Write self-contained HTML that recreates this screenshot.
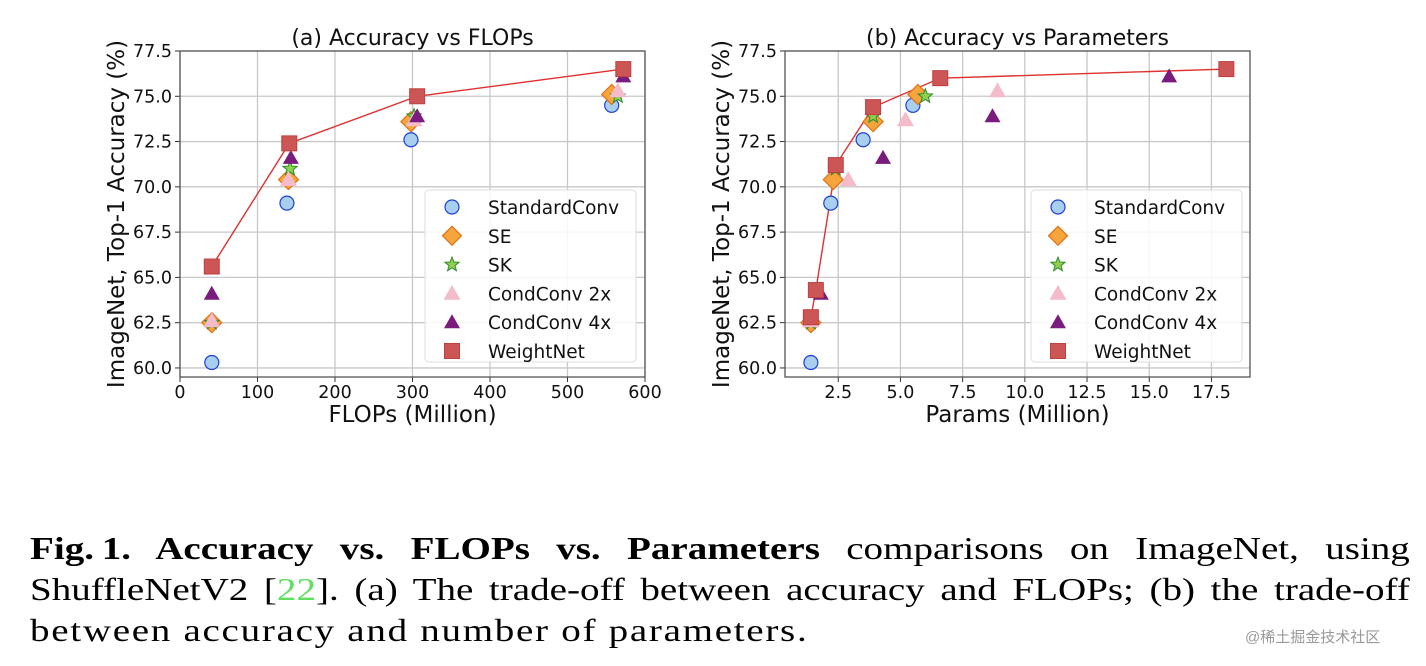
<!DOCTYPE html>
<html><head><meta charset="utf-8">
<style>
body{margin:0;background:#fff;width:1426px;height:666px;overflow:hidden;position:relative}
svg{position:absolute;left:0;top:0}
#cap{position:absolute;left:30px;top:528px;width:1380px;font-family:"Liberation Serif",serif;font-size:32px;line-height:41px;color:#000}
#cap div{width:1131px;transform:scaleX(1.22);transform-origin:0 0;white-space:nowrap}
#cap .j{text-align:justify;text-align-last:justify}
#cap .l{letter-spacing:1.4px}
#wm{position:absolute;left:1245px;top:626px;font-family:"Liberation Sans","Noto Sans CJK SC",sans-serif;font-size:15px;color:#999}
</style></head>
<body>
<svg id="fig" width="1426" height="520" xmlns="http://www.w3.org/2000/svg" font-family="DejaVu Sans, sans-serif"></svg>
<div id="cap"><div class="j"><b>Fig.&#8201;1. Accuracy vs. FLOPs vs. Parameters</b> comparisons on ImageNet, using</div><div class="j">ShuffleNetV2 [<span style="color:#5ee05e">22</span>]. (a) The trade-off between accuracy and FLOPs; (b) the trade-off</div><div class="l">between accuracy and number of parameters.</div></div>
<div id="wm">@稀土掘金技术社区</div>
<script>
const seriesNames=["StandardConv","SE","SK","CondConv 2x","CondConv 4x","WeightNet"];
const flopsStd=[41,138,298,557], accStdA=[60.3,69.1,72.6,74.5];
const flopsSE=[41,140,298,557], accSEA=[62.5,70.4,73.6,75.1];
const flopsSK=[41,142,302,565], accSKA=[62.5,71.0,73.9,75.0];
const flopsC2=[41,140,302,565], accC2A=[62.6,70.4,73.7,75.3];
const flopsC4=[41,143,306,572], accC4A=[64.1,71.6,73.9,76.1];
const flopsWN=[41,141,306,572], accWNA=[65.6,72.4,75.0,76.5];
const paramsStd=[1.4,2.2,3.5,5.5], accStdB=[60.3,69.1,72.6,74.5];
const paramsSE=[1.4,2.3,3.9,5.7], accSEB=[62.5,70.4,73.6,75.1];
const paramsSK=[1.4,2.4,3.9,6.0], accSKB=[62.5,71.0,73.9,75.0];
const paramsC2=[1.4,2.9,5.2,8.9], accC2B=[62.6,70.4,73.7,75.3];
const paramsC4=[1.8,4.3,8.7,15.8], accC4B=[64.1,71.6,73.9,76.1];
const paramsWN=[1.4,1.6,2.4,3.9,6.6,18.1], accWNB=[62.8,64.3,71.2,74.4,76.0,76.5];
const yTicks=[60.0,62.5,65.0,67.5,70.0,72.5,75.0,77.5];
const xTicksA=[0,100,200,300,400,500,600];
const xTicksB=[2.5,5.0,7.5,10.0,12.5,15.0,17.5];

const NS="http://www.w3.org/2000/svg";
const svg=document.getElementById('fig');
function el(tag,attrs,parent,text){const e=document.createElementNS(NS,tag);for(const k in attrs)e.setAttribute(k,attrs[k]);if(text!==undefined)e.textContent=text;(parent||svg).appendChild(e);return e;}

function marker(g,kind,cx,cy,s){
  let e;
  if(kind==0){e=el('circle',{cx:cx,cy:cy,r:7*s,fill:'#a9cfee',stroke:'#1f3fd8','stroke-width':1.2},g);}
  else if(kind==1){const r=10*s;e=el('polygon',{points:`${cx},${cy-r} ${cx+r},${cy} ${cx},${cy+r} ${cx-r},${cy}`,fill:'#f6a53c',stroke:'#e0721a','stroke-width':1.2},g);}
  else if(kind==2){let p=[];for(let i=0;i<10;i++){const a=-Math.PI/2+i*Math.PI/5;const r=i%2?3.2*s:7.5*s;p.push((cx+r*Math.cos(a)).toFixed(1)+','+(cy+r*Math.sin(a)).toFixed(1));}e=el('polygon',{points:p.join(' '),fill:'#8fd14f',stroke:'#2e8b2e','stroke-width':1},g);}
  else if(kind==3){const r=8.5*s;e=el('polygon',{points:`${cx},${cy-r} ${cx+r},${cy+r*0.75} ${cx-r},${cy+r*0.75}`,fill:'#f4bccb'},g);}
  else if(kind==4){const r=8*s;e=el('polygon',{points:`${cx},${cy-r} ${cx+r},${cy+r*0.75} ${cx-r},${cy+r*0.75}`,fill:'#7a1c7e'},g);}
  else {const r=7.5*s;e=el('rect',{x:cx-r,y:cy-r,width:2*r,height:2*r,fill:'#cc5555',stroke:'#c04040','stroke-width':1},g);}
  return e;
}

function panel(opt){
  const g=el('g',{});
  
  
  const L=opt.left,R=opt.right,T=51,B=377;
  const yMin=59.5,yMax=77.5;
  const sx=v=>L+(v-opt.xmin)/(opt.xmax-opt.xmin)*(R-L);
  const sy=v=>T+(yMax-v)/(yMax-yMin)*(B-T);
  opt.xticks.forEach(t=>{const x=sx(t);
    const gl=el('line',{x1:x,x2:x,y1:T,y2:B,stroke:'#c8c8c8','stroke-width':1.3},g);
    
    el('line',{x1:x,x2:x,y1:B,y2:B+5,stroke:'#333'},g);
    const tl=el('text',{x:x,y:B+21,'font-size':17.5,'text-anchor':'middle',fill:'#111'},g,opt.xfmt(t));
    
  });
  yTicks.forEach(t=>{const y=sy(t);
    const gl=el('line',{x1:L,x2:R,y1:y,y2:y,stroke:'#c8c8c8','stroke-width':1.3},g);
    
    el('line',{x1:L-5,x2:L,y1:y,y2:y,stroke:'#333'},g);
    const tl=el('text',{x:L-8,y:y+6,'font-size':17.5,'text-anchor':'end',fill:'#111'},g,t.toFixed(1));
    
  });
  const ln=el('polyline',{points:opt.xs[5].map((v,i)=>sx(v)+','+sy(opt.ys[5][i])).join(' '),fill:'none',stroke:'#e03030','stroke-width':1.4},g);
  
  for(let k=0;k<6;k++){
    opt.xs[k].forEach((v,i)=>{const m=marker(g,k,sx(v),sy(opt.ys[k][i]),1);
      
      });
  }
  const fr=el('rect',{x:L,y:T,width:R-L,height:B-T,fill:'none',stroke:'#555','stroke-width':1.3},g);
  
  const ti=el('text',{x:(L+R)/2,y:45,'font-size':22,'text-anchor':'middle',fill:'#111'},g,opt.title);
  
  const xl=el('text',{x:(L+R)/2,y:422,'font-size':23,'text-anchor':'middle',fill:'#111'},g,opt.xlabel);
  
  const yl=el('text',{x:0,y:0,'font-size':23,'text-anchor':'middle',fill:'#111',transform:`translate(${L-56},${(T+B)/2}) rotate(-90)`},g,'ImageNet, Top-1 Accuracy (%)');
  
  const lg=el('g',{},g);
  
  el('rect',{x:opt.lx,y:190,width:211,height:172,rx:4,fill:'#fff','fill-opacity':0.85,stroke:'#ddd'},lg);
  seriesNames.forEach((n,i)=>{const y=207+i*28.8;
    const m=marker(lg,i,opt.lx+27,y,i==1?0.95:1);
    
    const t=el('text',{x:opt.lx+63,y:y+7,'font-size':18.5,fill:'#111'},lg,n);
    
  });
}
panel({name:'chart-accuracy-vs-flops',left:180,right:645,xmin:0,xmax:600,xticks:xTicksA,xfmt:t=>String(t),
  xs:[flopsStd,flopsSE,flopsSK,flopsC2,flopsC4,flopsWN],ys:[accStdA,accSEA,accSKA,accC2A,accC4A,accWNA],
  title:'(a) Accuracy vs FLOPs',xlabel:'FLOPs (Million)',lx:425});
panel({name:'chart-accuracy-vs-params',left:785,right:1250,xmin:0.36,xmax:19.05,xticks:xTicksB,xfmt:t=>t.toFixed(1),
  xs:[paramsStd,paramsSE,paramsSK,paramsC2,paramsC4,paramsWN],ys:[accStdB,accSEB,accSKB,accC2B,accC4B,accWNB],
  title:'(b) Accuracy vs Parameters',xlabel:'Params (Million)',lx:1031});
</script>
</body></html>
